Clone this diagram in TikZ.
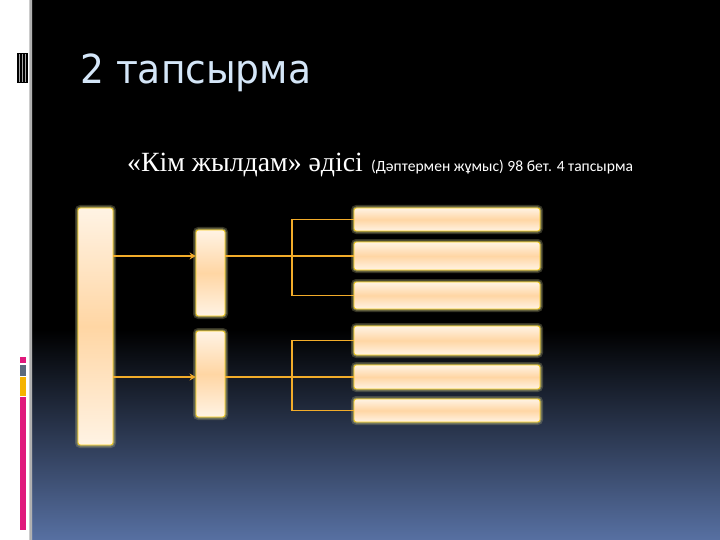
\documentclass[tikz,border=0pt]{standalone}
\usepackage{fontspec}
\setmainfont{Liberation Serif}
\newfontfamily\titlefont[FakeStretch=0.94]{DejaVu Sans}
\newfontfamily\notefont{Carlito}
\usetikzlibrary{arrows.meta}
\definecolor{bgblue}{HTML}{5770A2}
\definecolor{titleblue}{HTML}{D4E6F8}
\definecolor{linkorange}{HTML}{F2AC2A}
\definecolor{peach}{HTML}{FFD6A4}
\definecolor{cream}{HTML}{FFF3E4}
\definecolor{barpink}{HTML}{E0197C}
\definecolor{bargray}{HTML}{5B6A7C}
\definecolor{baryellow}{HTML}{F5B300}

\begin{document}
\begin{tikzpicture}[x=1pt,y=-1pt]
  \tikzset{
    box/.style={draw=linkorange!60!yellow,line width=.8pt,rounded corners=2.5pt,inner sep=0pt,
      top color=cream,bottom color=cream,middle color=peach,
      preaction={draw=gray!70!yellow,line width=6pt,opacity=.3},
      preaction={draw=gray!60!yellow,line width=3pt,opacity=.5}}, % glowing bar
    link/.style={draw=linkorange,line width=1.1pt},
    tip/.style={-{Stealth[length=6pt,width=7pt]}}
  }

  % slide background
  \fill[white] (0,0) rectangle (720,540);
  \fill[black] (31,0) rectangle (720,330);
  \shade[top color=black,bottom color=bgblue] (31,330) rectangle (720,540);
  \shade[left color=gray!40,right color=gray!30,middle color=gray!75] (29,0) rectangle (32,540);
  \fill[black] (17,53) rectangle (28,83);
  \foreach \x in {19.5,22.5,25.5}
    \draw[gray!70,line width=1pt] (\x,54) -- (\x,82);
  \fill[barpink] (20,357) rectangle (26,363);
  \fill[bargray] (20,365) rectangle (26,376);
  \fill[baryellow] (20,377) rectangle (26,396);
  \fill[barpink] (20,397) rectangle (26,530);

  % texts
  \node[anchor=base west,inner sep=0pt,text=titleblue,font=\titlefont\fontsize{40}{48}\selectfont] (title) at (80,84) {2 тапсырма};
  \node[anchor=base west,inner sep=0pt,text=white,font=\fontsize{27.8}{32}\selectfont] (method) at (127,172) {«Кім жылдам» әдісі};
  \node[anchor=base west,inner sep=0pt,text=white,font=\notefont\fontsize{15.6}{18}\selectfont] (note) at (371,172) {(Дәптермен жұмыс) 98 бет. 4 тапсырма};

  % bars
  \node[box,minimum width=35pt,minimum height=237pt] (whole) at (95.5,326.5) {};
  \node[box,minimum width=29pt,minimum height=86pt] (part1) at (210.5,273) {};
  \node[box,minimum width=29pt,minimum height=86pt] (part2) at (210.5,374) {};
  \foreach \n/\y/\h in {1/219.5/23,2/256/28,3/295.5/27,4/340.5/29,5/377/24,6/410.5/23}
    \node[box,minimum width=186pt,minimum height=\h] (item\n) at (447,\y) {};

  % connectors
  \coordinate (fork) at (292,0);
  \draw[link,tip] (whole.east |- item2) -- (part1.west |- item2);
  \draw[link,tip] (whole.east |- item5) -- (part2.west |- item5);
  \draw[link] (part1.east |- item2) -- (item2.west);
  \draw[link] (part2.east |- item5) -- (item5.west);
  \draw[link] (item1.west) -| (fork |- item3) -- (item3.west);
  \draw[link] (item4.west) -| (fork |- item6) -- (item6.west);
\end{tikzpicture}
\end{document}
